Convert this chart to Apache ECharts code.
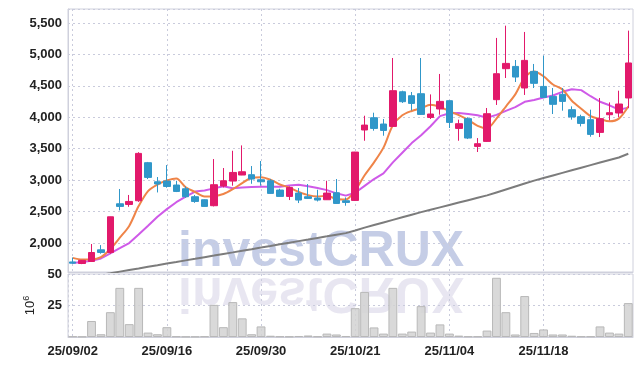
<!DOCTYPE html>
<html>
<head>
<meta charset="utf-8">
<script src="https://cdn.jsdelivr.net/npm/echarts@6/dist/echarts.min.js"></script>
<style>html,body{margin:0;padding:0;background:#fff}#c{width:642px;height:366px}</style>
</head>
<body>
<div id="c"></div>
<script>
const dates = ["25/09/02","25/09/03","25/09/04","25/09/05","25/09/08","25/09/09","25/09/10","25/09/11","25/09/12","25/09/15",
"25/09/16","25/09/17","25/09/18","25/09/19","25/09/22","25/09/23","25/09/24","25/09/25","25/09/26","25/09/29",
"25/09/30","25/10/01","25/10/02","25/10/10","25/10/13","25/10/14","25/10/15","25/10/16","25/10/17","25/10/20",
"25/10/21","25/10/22","25/10/23","25/10/24","25/10/27","25/10/28","25/10/29","25/10/30","25/10/31","25/11/03",
"25/11/04","25/11/05","25/11/06","25/11/07","25/11/10","25/11/11","25/11/12","25/11/13","25/11/14","25/11/17",
"25/11/18","25/11/19","25/11/20","25/11/21","25/11/24","25/11/25","25/11/26","25/11/27","25/11/28","25/12/01"];

const open  = [1700,1675,1707,1893,1851,2625,2614,2673,3278,2975, 2986,2923,2864,2737,2689,2594,2907,2986,3082,3087,
               3007,2990,2843,2742,2795,2737,2716,2689,2800,2673, 2678,3798,3993,3893,3855,4406,4343,4375,3998,4132,
               4264,3823,3978,3537,3617,4280,4773,4809,4466,4730, 4491,4332,4364,4121,4010,3962,3760,4041,4068,4307];
const close = [1680,1725,1850,1851,2418,2583,2662,3426,3044,2940, 2900,2821,2737,2662,2583,2928,2991,3123,3134,3018,
               2975,2790,2742,2885,2684,2710,2684,2795,2630,2646, 3447,3876,3823,3791,4423,4248,4221,4046,4052,4253,
               3919,3898,3670,3580,4057,4693,4857,4640,4905,4540, 4316,4206,4253,4005,3903,3728,3978,4073,4211,4864];
const low   = [1670,1665,1700,1830,1830,2520,2577,2655,3018,2805, 2880,2811,2720,2640,2580,2583,2885,2912,3080,2943,
               2912,2785,2740,2684,2636,2705,2662,2685,2625,2594, 2670,3627,3787,3707,3850,4228,4110,4040,3973,4041,
               3830,3627,3654,3448,3610,4196,4625,4561,4355,4466, 4310,4052,4105,3962,3855,3691,3686,3951,4005,4148];
const high  = [1770,1730,1985,1968,2420,2860,2765,3445,3290,3050, 3240,2990,2900,2765,2695,3336,3193,3468,3553,3225,
               3305,3018,2864,2900,2875,2939,2848,2991,3018,2726, 3450,4025,4073,3973,4943,4423,4402,4943,4364,4689,
               4270,3962,4000,3670,4148,5262,5457,4911,5357,4848, 4980,4466,4466,4174,4041,4121,4307,4237,4423,5378];

const ma5  = [1765,1740,1740,1775,1905,2085,2273,2588,2827,2931, 2994,3026,2888,2812,2741,2746,2780,2857,2952,3039,
              3048,3008,2932,2882,2815,2762,2741,2752,2701,2693, 2840,3079,3284,3517,3872,4032,4101,4146,4198,4164,
              4098,4034,3958,3864,3825,3980,4171,4365,4630,4727, 4652,4521,4444,4264,4137,4019,3973,3937,3979,4171];
const ma10 = [1682,1700,1720,1755,1837,1918,2000,2137,2275,2418, 2540,2650,2738,2819,2836,2870,2903,2873,2882,2890,
              2897,2894,2895,2917,2927,2905,2875,2842,2791,2754, 2801,2910,3018,3109,3283,3436,3590,3715,3857,4018,
              4065,4067,4052,4031,3994,4039,4103,4162,4247,4276, 4316,4346,4405,4447,4432,4335,4247,4191,4121,4154];
const ma60 = [1418,1444,1469,1495,1520,1546,1572,1597,1623,1648, 1674,1699,1725,1750,1776,1801,1827,1852,1878,1903,
              1929,1954,1980,2005,2031,2056,2082,2107,2133,2158, 2200,2246,2287,2328,2369,2410,2451,2492,2530,2568,
              2606,2644,2682,2720,2758,2805,2852,2899,2946,2993, 3034,3075,3116,3157,3198,3239,3280,3320,3360,3421];
const volume = [0.5,0.3,12.7,2.2,19.7,39,10.2,39,3.5,2.2, 7.8,0.5,0.3,0.3,0.5,25.5,7.8,27.7,14.8,2.2,
                8.4,1.0,0.5,0.4,0.8,1.2,0.5,2.7,2.0,0.8, 22.9,35.8,7.6,2.7,39,2.7,4.3,24.5,3.5,10,
                2.7,1.1,0.5,0.5,5.1,47,19.7,2.0,32.5,3.2, 6,2,2,1,0.5,0.5,8.4,3.5,2.7,26.9];

const priceMin = 1540, priceMax = 5722;
const volTicks = [0, 25, 50];

const candles = dates.map((d, i) => [open[i], close[i], low[i], high[i]]);

const RED = '#e2196b', BLUE = '#3097c9';
const FONT = 'Liberation Sans';
const gridLine = {show: true, lineStyle: {color: '#c9cbdc', type: [2, 3], width: 1}};
const labelStyle = {color: '#222', fontFamily: FONT, fontSize: 13, fontWeight: 'bold'};
const WM_FONT = 'bold 50px "Liberation Sans"';

const chart = echarts.init(document.getElementById('c'), null, {renderer: 'canvas'});
chart.setOption({
  animation: false,
  backgroundColor: '#fff',
  graphic: [
    {type: 'text', z: 0, x: 178, y: 227, silent: true,
     style: {text: 'investCRUX', font: WM_FONT, fill: 'rgba(140,155,205,0.5)'}},
    {type: 'text', z: 0, x: 178, y: 317, scaleY: -1, silent: true,
     style: {text: 'investCRUX', font: WM_FONT, fill: 'rgba(205,200,225,0.45)'}}
  ],
  grid: [
    {left: 68, right: 9, top: 9, height: 263, show: true, borderColor: '#cfd0dc', borderWidth: 1},
    {left: 68, right: 9, top: 274, height: 63, show: true, borderColor: '#cfd0dc', borderWidth: 1}
  ],
  xAxis: [
    {type: 'category', gridIndex: 0, data: dates, boundaryGap: true,
     axisLine: {show: true, lineStyle: {color: '#cfd0dc'}}, axisTick: {show: false}, axisLabel: {show: false},
     splitLine: Object.assign({interval: 9, alignWithLabel: true}, gridLine)},
    {type: 'category', gridIndex: 1, data: dates, boundaryGap: true,
     axisLine: {show: true, lineStyle: {color: '#cfd0dc'}}, axisTick: {show: false},
     axisLabel: Object.assign({interval: 9, margin: 8}, labelStyle),
     splitLine: Object.assign({interval: 9, alignWithLabel: true}, gridLine)}
  ],
  yAxis: [
    {type: 'value', gridIndex: 0, min: priceMin, max: priceMax, splitNumber: 8,
     axisLine: {show: true, lineStyle: {color: '#cfd0dc'}}, axisTick: {show: false},
     axisLabel: Object.assign({margin: 6, showMinLabel: false, showMaxLabel: false,
       formatter: v => v.toLocaleString('en-US')}, labelStyle),
     splitLine: gridLine},
    {type: 'value', gridIndex: 1, min: volTicks[0], max: volTicks[2], interval: volTicks[1],
     name: '10{s|6}', nameLocation: 'middle', nameRotate: 90, nameGap: 28,
     nameTextStyle: {color: '#222', fontFamily: FONT, fontSize: 13,
       rich: {s: {fontSize: 9, fontFamily: FONT, color: '#222', padding: [0, 0, 7, 0]}}},
     axisLine: {show: true, lineStyle: {color: '#cfd0dc', type: [2, 3]}}, axisTick: {show: false},
     axisLabel: Object.assign({margin: 6, showMinLabel: false}, labelStyle),
     splitLine: gridLine}
  ],
  series: [
    {type: 'bar', name: 'Volume', xAxisIndex: 1, yAxisIndex: 1, data: volume, barCategoryGap: '6%',
     itemStyle: {color: 'rgba(210,210,210,0.85)', borderColor: '#b8b8b8', borderWidth: 1}, z: 3},
    {type: 'line', name: 'MA60', xAxisIndex: 0, yAxisIndex: 0, data: ma60, symbol: 'none',
     lineStyle: {color: '#7c7c7c', width: 2}, z: 3},
    {type: 'line', name: 'MA10', xAxisIndex: 0, yAxisIndex: 0, data: ma10, symbol: 'none',
     lineStyle: {color: '#cf5ae8', width: 2}, z: 3},
    {type: 'line', name: 'MA5', xAxisIndex: 0, yAxisIndex: 0, data: ma5, symbol: 'none', smooth: 0.3,
     lineStyle: {color: '#ef8448', width: 2}, z: 4},
    {type: 'candlestick', name: 'Price', xAxisIndex: 0, yAxisIndex: 0, data: candles, barWidth: 7,
     itemStyle: {color: RED, color0: BLUE, borderColor: RED, borderColor0: BLUE, borderWidth: 1}, z: 5}
  ]
});
</script>
</body>
</html>
